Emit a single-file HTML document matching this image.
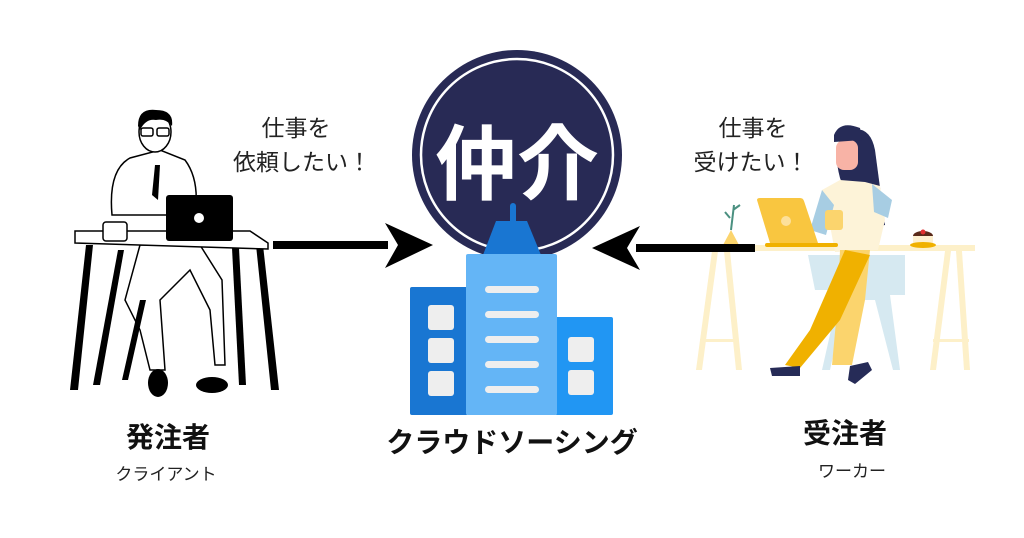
<!DOCTYPE html>
<html><head><meta charset="utf-8"><style>
html,body{margin:0;padding:0;background:#fff;}
svg{display:block}
text{font-family:"Liberation Sans","Noto Sans CJK JP",sans-serif;}
</style></head><body>
<svg width="1024" height="538" viewBox="0 0 1024 538" xmlns="http://www.w3.org/2000/svg">
<rect width="1024" height="538" fill="#fff"/>
<!-- Man (left) -->
<g stroke="#000" stroke-width="1.5" fill="#fff">
  <path d="M112 215 Q108 170 130 158 L160 150 L185 160 Q200 180 195 215 Z"/>
  <path d="M140 245 L125 300 L140 330 L150 370 L165 370 L160 300 L190 270 L210 310 L215 365 L225 365 L222 280 L200 245 Z"/>
</g>
<ellipse cx="155" cy="132" rx="16" ry="20" fill="#fff" stroke="#000" stroke-width="1.5"/>
<path d="M138 126 Q138 108 156 110 Q174 110 172 126 Q166 118 156 120 Q146 118 140 130 Z" fill="#000"/>
<rect x="141" y="128" width="12" height="8" rx="2" fill="none" stroke="#000" stroke-width="1.5"/>
<rect x="157" y="128" width="12" height="8" rx="2" fill="none" stroke="#000" stroke-width="1.5"/>
<path d="M155 165 L152 195 L158 200 L160 165 Z" fill="#000"/>
<ellipse cx="158" cy="383" rx="10" ry="14" fill="#000"/>
<ellipse cx="212" cy="385" rx="16" ry="8" fill="#000"/>
<g fill="#000">
  <path d="M86 245 L93 245 L78 390 L70 390 Z"/>
  <path d="M118 250 L124 250 L100 385 L93 385 Z"/>
  <path d="M232 248 L239 248 L246 385 L239 385 Z"/>
  <path d="M256 245 L263 245 L279 390 L271 390 Z"/>
  <path d="M140 300 L146 300 L128 380 L122 380 Z"/>
</g>
<path d="M75 231 L250 231 L268 243 L268 249 L75 243 Z" fill="#fff" stroke="#000" stroke-width="1.5"/>
<rect x="166" y="195" width="67" height="46" rx="3" fill="#000"/>
<circle cx="199" cy="218" r="5" fill="#fff"/>
<rect x="103" y="222" width="24" height="19" rx="3" fill="#fff" stroke="#000" stroke-width="1.5"/>
<!-- Woman (right) -->
<g fill="#fdf0c9">
  <rect x="700" y="245" width="275" height="6"/>
  <path d="M712 251 L718 251 L702 370 L696 370 Z"/>
  <path d="M724 251 L730 251 L742 370 L736 370 Z"/>
  <path d="M945 251 L951 251 L936 370 L930 370 Z"/>
  <path d="M956 251 L962 251 L970 370 L964 370 Z"/>
  <rect x="700" y="339" width="38" height="3"/>
  <rect x="933" y="339" width="36" height="3"/>
</g>
<path d="M808 255 L905 255 L905 295 L890 295 L900 370 L893 370 L875 300 L845 300 L830 370 L822 370 L840 290 L815 290 Z" fill="#d6e9f1"/>
<path d="M840 178 Q830 140 850 130 Q870 125 875 150 L885 225 L860 230 Z" fill="#262b57"/>
<rect x="836" y="140" width="22" height="30" rx="8" fill="#f8b3a6"/>
<path d="M834 135 Q840 120 860 128 L862 140 L834 142 Z" fill="#262b57"/>
<path d="M822 190 L840 180 L865 182 L880 186 L885 220 L878 250 L835 252 L828 215 Z" fill="#fdf3d8"/>
<path d="M822 190 L810 230 L826 235 L834 205 Z" fill="#a7cde3"/>
<path d="M872 184 L892 200 L888 218 L874 212 Z" fill="#a7cde3"/>
<path d="M840 250 L870 250 L865 300 L852 365 L832 365 L838 300 Z" fill="#fbd46d"/>
<path d="M845 250 L810 330 L785 365 L800 368 L840 320 L870 255 Z" fill="#f0b100"/>
<path d="M770 368 L800 366 L800 376 L772 376 Z" fill="#262b57"/>
<path d="M850 366 L868 362 L872 370 L855 384 L848 380 Z" fill="#262b57"/>
<rect x="825" y="210" width="18" height="20" rx="3" fill="#fbd46d"/>
<path d="M757 200 Q757 198 760 198 L800 198 Q803 198 804 201 L818 243 L770 243 Z" fill="#f9c640"/>
<circle cx="786" cy="221" r="5" fill="#fde09a"/>
<rect x="765" y="243" width="73" height="4" rx="2" fill="#f0b100"/>
<path d="M723 245 L731 230 L739 245 Z" fill="#fbd46d"/>
<path d="M731 230 L734 205 M730 218 L725 212 M733 210 L740 205" stroke="#4a9080" stroke-width="2" fill="none"/>
<ellipse cx="923" cy="236" rx="10" ry="5" fill="#5a2a1a"/>
<rect x="913" y="236" width="20" height="8" fill="#fdf0d0"/>
<ellipse cx="923" cy="245" rx="13" ry="3" fill="#f0b100"/>
<circle cx="923" cy="232" r="2.5" fill="#e03030"/>
<!-- Arrows -->
<rect x="273" y="241" width="115" height="8" fill="#000"/>
<path d="M433 245 L385 223 L398 245 L385 268 Z" fill="#000"/>
<rect x="636" y="244" width="119" height="8" fill="#000"/>
<path d="M592 248 L640 226 L627 248 L640 270 Z" fill="#000"/>
<!-- Circle -->
<circle cx="517" cy="155" r="105" fill="#282a55"/>
<circle cx="517" cy="155" r="96" fill="none" stroke="#fff" stroke-width="2.5"/>
<text x="517" y="193" text-anchor="middle" font-size="82" font-weight="bold" fill="#fff">仲介</text>
<!-- Building -->
<rect x="510" y="203" width="6" height="28" rx="3" fill="#1976d2"/>
<path d="M496 221 L527 221 L541 255 L483 255 Z" fill="#1976d2"/>
<rect x="410" y="287" width="58" height="128" rx="2" fill="#1976d2"/>
<rect x="555" y="317" width="58" height="98" rx="2" fill="#2196f3"/>
<rect x="466" y="254" width="91" height="161" rx="2" fill="#64b5f6"/>
<g fill="#eeeeee">
  <rect x="428" y="305" width="26" height="25" rx="3"/>
  <rect x="428" y="338" width="26" height="25" rx="3"/>
  <rect x="428" y="371" width="26" height="25" rx="3"/>
  <rect x="568" y="337" width="26" height="25" rx="3"/>
  <rect x="568" y="370" width="26" height="25" rx="3"/>
  <rect x="485" y="286" width="54" height="7" rx="3.5"/>
  <rect x="485" y="311" width="54" height="7" rx="3.5"/>
  <rect x="485" y="336" width="54" height="7" rx="3.5"/>
  <rect x="485" y="361" width="54" height="7" rx="3.5"/>
  <rect x="485" y="386" width="54" height="7" rx="3.5"/>
</g>
<!-- Texts -->
<g font-size="23" fill="#222" text-anchor="middle">
  <text x="296" y="136">仕事を</text>
  <text x="302" y="170">依頼したい！</text>
  <text x="753" y="136">仕事を</text>
  <text x="751" y="170">受けたい！</text>
</g>
<g font-weight="bold" font-size="28" fill="#111" text-anchor="middle">
  <text x="168" y="447">発注者</text>
  <text x="512" y="452">クラウドソーシング</text>
  <text x="845" y="443">受注者</text>
</g>
<g font-size="17" fill="#222" text-anchor="middle">
  <text x="166" y="480">クライアント</text>
  <text x="852" y="477">ワーカー</text>
</g>
</svg>
</body></html>
